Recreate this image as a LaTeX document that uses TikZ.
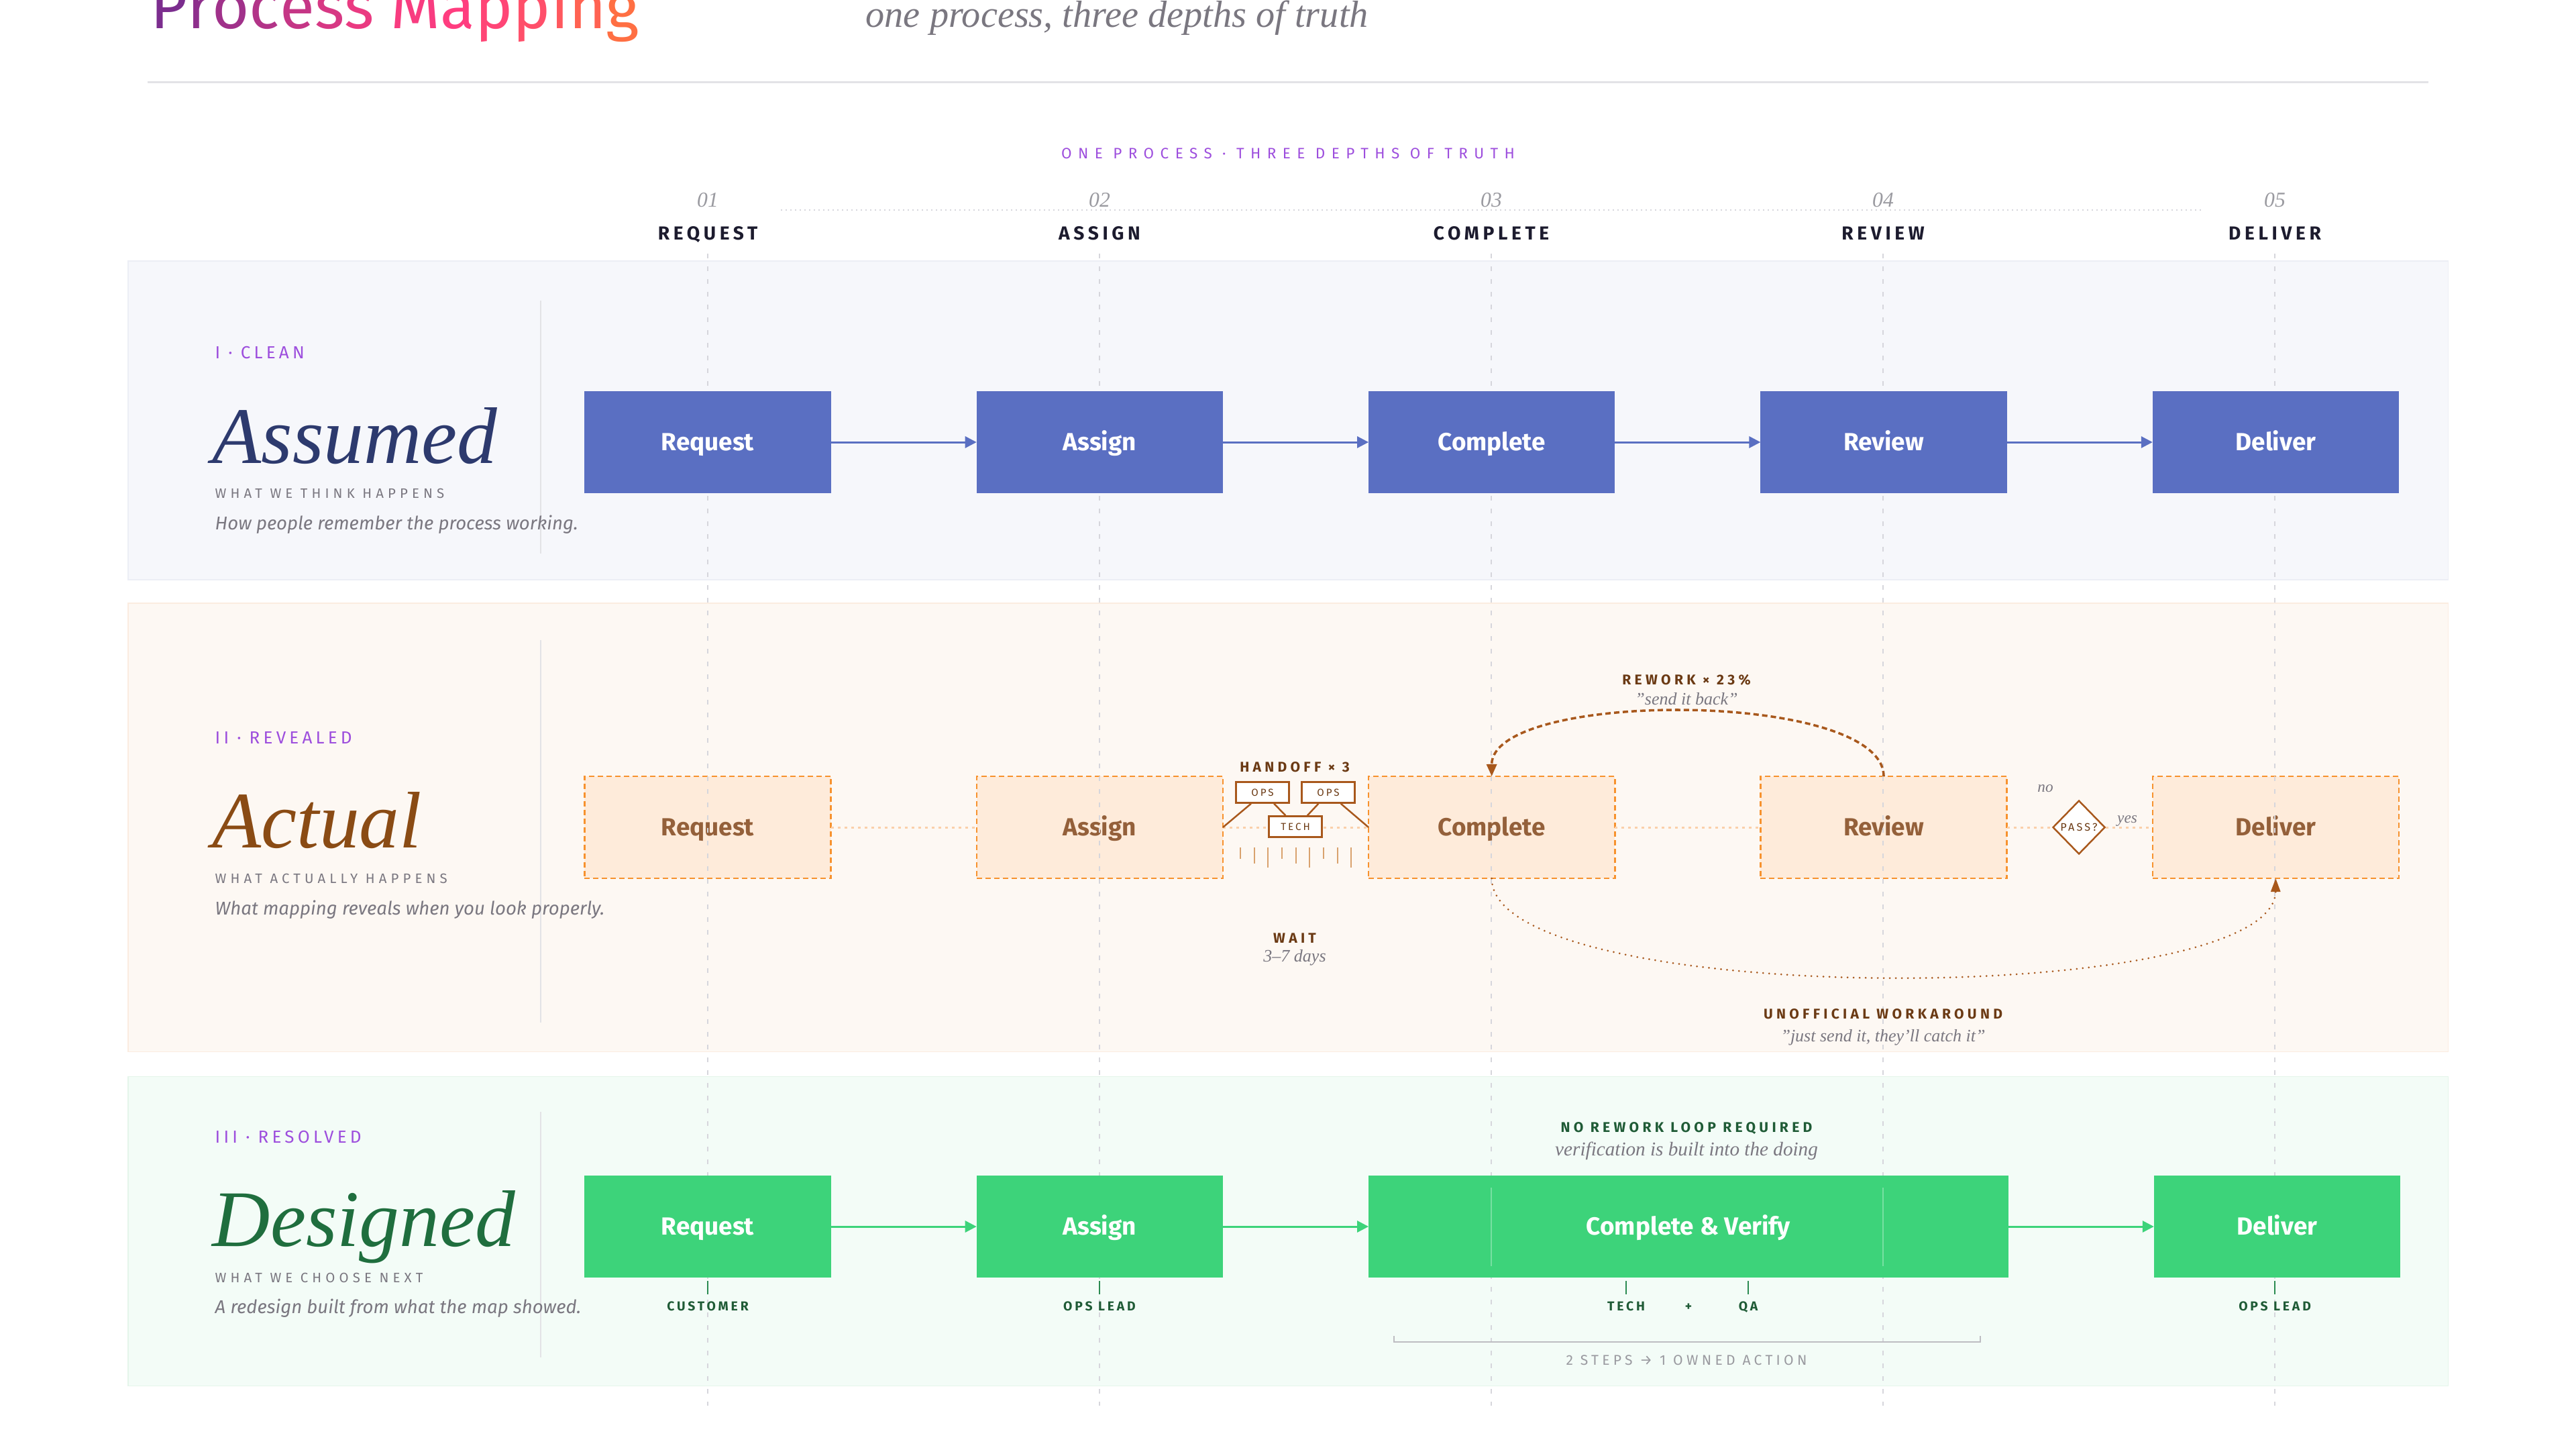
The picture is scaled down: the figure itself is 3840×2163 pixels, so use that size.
\documentclass[tikz,border=0pt]{standalone}
\usepackage{fontspec}
\setmainfont{Liberation Serif}
\setsansfont{Fira Sans}
\newfontfamily\trackA[LetterSpace=20]{Fira Sans}
\newfontfamily\trackB[LetterSpace=30]{Fira Sans}
\newfontfamily\trackC[LetterSpace=42]{Fira Sans}
\newfontfamily\trackD[LetterSpace=25]{Fira Sans}
\usepackage{xcolor}
\usetikzlibrary{arrows.meta,positioning,calc,shapes.geometric}
\definecolor{ink}{HTML}{1C1B2E}
\definecolor{kicker}{HTML}{9D4EDD}
\definecolor{muted}{HTML}{7A7780}
\definecolor{faint}{HTML}{9A9AA0}
\definecolor{rule}{HTML}{E3E3E6}
\definecolor{guideline}{HTML}{D6D6DC}
\definecolor{cleanbg}{HTML}{F6F7FB}
\definecolor{cleanline}{HTML}{ECEEF5}
\definecolor{cleanfill}{HTML}{5A6FC2}
\definecolor{cleanink}{HTML}{2D3A6E}
\definecolor{realbg}{HTML}{FDF8F3}
\definecolor{realline}{HTML}{FBECE0}
\definecolor{realfill}{HTML}{FEEBDA}
\definecolor{realedge}{HTML}{F7922E}
\definecolor{realtext}{HTML}{94603A}
\definecolor{realdot}{HTML}{FAD0AA}
\definecolor{realink}{HTML}{8A4B14}
\definecolor{rust}{HTML}{A8581C}
\definecolor{tan}{HTML}{D9A26E}
\definecolor{bark}{HTML}{6B3A14}
\definecolor{newbg}{HTML}{F3FCF7}
\definecolor{newline}{HTML}{E4F5EA}
\definecolor{newfill}{HTML}{3DD37A}
\definecolor{newink}{HTML}{1F6E3E}
\definecolor{pine}{HTML}{1F5B36}
\definecolor{bracketgray}{HTML}{BDBDC2}
\definecolor{tStart}{HTML}{7B2D8E}
\definecolor{tMid}{HTML}{FF3D7F}
\definecolor{tEnd}{HTML}{FF6F43}

\newcommand{\gradtitle}{%
  \textcolor{tStart}{P}\textcolor{tMid!14!tStart}{r}\textcolor{tMid!28!tStart}{o}%
  \textcolor{tMid!42!tStart}{c}\textcolor{tMid!56!tStart}{e}\textcolor{tMid!70!tStart}{s}%
  \textcolor{tMid!84!tStart}{s} \textcolor{tMid!95!tStart}{M}\textcolor{tMid}{a}%
  \textcolor{tEnd!15!tMid}{p}\textcolor{tEnd!35!tMid}{p}\textcolor{tEnd!55!tMid}{i}%
  \textcolor{tEnd!75!tMid}{n}\textcolor{tEnd}{g}}

\begin{document}
\begin{tikzpicture}[
  x=0.01cm, y=-0.01cm,
  stage/.style={
    rectangle,
    minimum width=3.67cm,
    minimum height=1.52cm,
    inner sep=0pt,
    outer sep=0pt,
    text height=9.2pt,
    text depth=2pt,
    font=\sffamily\bfseries\fontsize{10.5}{12}\selectfont
  },
  clean/.style={stage, fill=cleanfill, text=white},
  real/.style={stage, fill=realfill, draw=realedge, line width=0.7pt,
    dash pattern=on 0.08cm off 0.05cm, text=realtext},
  fixed/.style={stage, fill=newfill, text=white},
  flow/.style={-{Triangle[length=0.17cm,width=0.17cm]}, line width=0.85pt},
  faintlink/.style={draw=realdot, line width=0.85pt, dash pattern=on 0.04cm off 0.06cm},
  handbox/.style={
    rectangle,
    draw=rust,
    fill=white,
    line width=0.7pt,
    minimum width=0.79cm,
    minimum height=0.31cm,
    inner sep=0pt,
    font=\trackA\fontsize{4.3}{5}\selectfont,
    text=bark
  },
  handline/.style={draw=rust, line width=0.7pt},
  tagtext/.style={font=\trackD\bfseries\fontsize{6}{7}\selectfont, inner sep=0pt},
  tag/.style={tagtext, anchor=base},
  owned/.style={font=\trackA\bfseries\fontsize{5.5}{6}\selectfont, inner sep=0pt, anchor=base, text=pine},
  note/.style={font=\itshape\fontsize{7.4}{9}\selectfont, text=muted, anchor=base, inner sep=0pt},
  kick/.style={font=\trackA\fontsize{7.4}{8}\selectfont, text=kicker, anchor=base west, inner sep=0pt},
  word/.style={font=\itshape\fontsize{34}{40}\selectfont, anchor=base west, inner sep=0pt},
  caption/.style={font=\trackB\fontsize{5.8}{7}\selectfont, text=muted, anchor=base west, inner sep=0pt},
  blurb/.style={font=\sffamily\itshape\fontsize{7.85}{9}\selectfont, text=muted, anchor=base west, inner sep=0pt},
  colhead/.style={font=\trackA\bfseries\fontsize{8}{9}\selectfont, text=ink, anchor=base, inner sep=0pt},
  colnum/.style={font=\itshape\fontsize{9}{11}\selectfont, text=faint, anchor=base, inner sep=0pt},
  guide/.style={draw=guideline, line width=0.4pt, dash pattern=on 0.07cm off 0.12cm},
  divider/.style={draw=rule, line width=0.45pt},
  owner/.style={draw=pine!60!newfill, line width=0.4pt},
  loopback/.style={draw=rust, line width=1pt, dash pattern=on 0.08cm off 0.05cm,
    -{Triangle[length=0.18cm,width=0.15cm]}},
  shortcut/.style={draw=rust, line width=0.85pt, line cap=round,
    dash pattern=on 0pt off 0.09cm, -{Triangle[length=0.2cm,width=0.14cm]}}
]
\useasboundingbox (0,0) rectangle (3840,2163);
\clip (0,0) rectangle (3840,2163);

% header
\node[anchor=base west, font=\sffamily\fontsize{27}{30}\selectfont, inner sep=0pt] (title) at (224,42) {\gradtitle};
\node[anchor=base west, font=\itshape\fontsize{16}{18}\selectfont, text=muted, inner sep=0pt] (subtitle) at (1290,40) {one process, three depths of truth};
\coordinate (ruleL) at (220,122);
\coordinate (ruleR) at (3620,122);
\draw[draw=rule, line width=0.85pt] (ruleL) -- (ruleR);
\node[font=\trackC\fontsize{6.4}{7}\selectfont, text=kicker, anchor=base, inner sep=0pt] (kicker) at (1920,236) {ONE PROCESS · THREE DEPTHS OF TRUTH};

\node[colnum] (n1) at (1055,308) {01};
\node[colnum] (n2) at (1639,308) {02};
\node[colnum] (n3) at (2223,308) {03};
\node[colnum] (n4) at (2807,308) {04};
\node[colnum] (n5) at (3391,308) {05};
\coordinate (dotL) at (1164,313);
\coordinate (dotR) at (3285,313);
\draw[draw=guideline, line width=0.45pt, dash pattern=on 0.02cm off 0.05cm] (dotL) -- (dotR);
\node[colhead] (h1) at (1055,357) {REQUEST};
\node[colhead] (h2) at (1639,357) {ASSIGN};
\node[colhead] (h3) at (2223,357) {COMPLETE};
\node[colhead] (h4) at (2807,357) {REVIEW};
\node[colhead] (h5) at (3391,357) {DELIVER};

% bands
\draw[draw=cleanline, fill=cleanbg, line width=0.3pt] (191,389) rectangle (3649,864);
\draw[draw=realline, fill=realbg, line width=0.3pt] (191,899) rectangle (3649,1567);
\draw[draw=newline, fill=newbg, line width=0.3pt] (191,1604) rectangle (3649,2065);
\draw[divider] (806,448) -- (806,825);
\draw[divider] (806,954) -- (806,1524);
\draw[divider] (806,1657) -- (806,2023);

% row II boxes sit under the guides
\node[real] (b1) at (1055,1233) {Request};
\node[real, right=2.17cm of b1] (b2) {Assign};
\node[real, right=2.17cm of b2] (b3) {Complete};
\node[real, right=2.17cm of b3] (b4) {Review};
\node[real, right=2.17cm of b4] (b5) {Deliver};

\draw[guide] (1055,378) -- (1055,2095) (1639,378) -- (1639,2095) (2223,378) -- (2223,2095)
  (2807,378) -- (2807,2095) (3391,378) -- (3391,2095);

% I - clean
\node[kick] (tag1) at (320,534) {I · CLEAN};
\node[word, text=cleanink] (word1) at (316,690) {Assumed};
\node[caption] (cap1) at (320,742) {WHAT WE THINK HAPPENS};
\node[blurb] (blurb1) at (320,789) {How people remember the process working.};

\node[clean] (a1) at (1055,659) {Request};
\node[clean, right=2.17cm of a1] (a2) {Assign};
\node[clean, right=2.17cm of a2] (a3) {Complete};
\node[clean, right=2.17cm of a3] (a4) {Review};
\node[clean, right=2.17cm of a4] (a5) {Deliver};
\draw[flow, draw=cleanfill, fill=cleanfill] (a1) -- (a2);
\draw[flow, draw=cleanfill, fill=cleanfill] (a2) -- (a3);
\draw[flow, draw=cleanfill, fill=cleanfill] (a3) -- (a4);
\draw[flow, draw=cleanfill, fill=cleanfill] (a4) -- (a5);

% II - revealed
\node[kick] (tag2) at (320,1108) {II · REVEALED};
\node[word, text=realink] (word2) at (316,1263) {Actual};
\node[caption] (cap2) at (320,1316) {WHAT ACTUALLY HAPPENS};
\node[blurb] (blurb2) at (320,1363) {What mapping reveals when you look properly.};

\node[diamond, draw=rust, fill=white, line width=0.7pt, minimum width=0.78cm, minimum height=0.8cm,
  inner sep=0pt, label={[tagtext, text=bark, font=\trackA\fontsize{4.6}{5}\selectfont]center:PASS?}] (pass) at (3099,1233) {};

\draw[faintlink] (b1) -- (b2);
\draw[faintlink] (b2) -- (b3);
\draw[faintlink] (b3) -- (b4);
\draw[faintlink] (b4) -- (pass);
\draw[faintlink] (pass) -- (b5);
\node[note, font=\itshape\fontsize{6.6}{8}\selectfont] (no) at (3049,1180) {no};
\node[note, font=\itshape\fontsize{6.6}{8}\selectfont] (yes) at (3171,1226) {yes};

\node[tag, text=bark] (handoff) at (1930,1150) {HANDOFF × 3};
\node[handbox] (ops1) at (1882,1181) {OPS};
\node[handbox] (ops2) at (1980,1181) {OPS};
\node[handbox] (tech) at (1931,1232) {TECH};
\draw[handline] (b2.east) -- ($(ops1.south west)!.29!(ops1.south east)$);
\draw[handline] ($(ops1.south west)!.71!(ops1.south east)$) -- ($(tech.north west)!.32!(tech.north east)$);
\draw[handline] ($(tech.north west)!.72!(tech.north east)$) -- ($(ops2.south west)!.32!(ops2.south east)$);
\draw[handline] ($(ops2.south west)!.73!(ops2.south east)$) -- (b3.west);
\draw[draw=tan, line width=0.6pt] (1849,1263) -- (1849,1280) (1870,1263) -- (1870,1287)
  (1890,1263) -- (1890,1293) (1911,1263) -- (1911,1280) (1932,1263) -- (1932,1287)
  (1952,1263) -- (1952,1293) (1973,1263) -- (1973,1280) (1994,1263) -- (1994,1287)
  (2014,1263) -- (2014,1293);
\node[tag, text=bark] (wait) at (1930,1405) {WAIT};
\node[note] (days) at (1930,1433) {3–7 days};

\draw[loopback] (b4.north) .. controls (2807,1028) and (2223,1028) .. (b3.north);
\node[tag, text=bark] (rework) at (2514,1020) {REWORK × 23\%};
\node[note] (sendback) at (2514,1050) {"send it back"};

\draw[shortcut] (b3.south) .. controls (2223,1504) and (3391,1504) .. (b5.south);
\node[tag, text=bark] (workaround) at (2807,1518) {UNOFFICIAL WORKAROUND};
\node[note] (catchit) at (2807,1552) {"just send it, they'll catch it"};

% III - resolved
\node[kick] (tag3) at (320,1703) {III · RESOLVED};
\node[word, text=newink] (word3) at (316,1857) {Designed};
\node[caption] (cap3) at (320,1911) {WHAT WE CHOOSE NEXT};
\node[blurb] (blurb3) at (320,1957) {A redesign built from what the map showed.};

\node[fixed] (c1) at (1055,1828) {Request};
\node[fixed, right=2.17cm of c1] (c2) {Assign};
\node[fixed, right=2.17cm of c2, minimum width=9.53cm] (c3) {Complete \& Verify};
\node[fixed, right=2.17cm of c3] (c5) {Deliver};
\draw[white, opacity=0.3, line width=0.4pt] (2223,1770) -- (2223,1887) (2807,1770) -- (2807,1887);
\draw[flow, draw=newfill, fill=newfill] (c1) -- (c2);
\draw[flow, draw=newfill, fill=newfill] (c2) -- (c3);
\draw[flow, draw=newfill, fill=newfill] (c3) -- (c5);

\node[tag, text=pine] (norework) at (2514,1687) {NO REWORK LOOP REQUIRED};
\node[note, font=\itshape\fontsize{8.3}{10}\selectfont] (builtin) at (2514,1722) {verification is built into the doing};

\node[owned] (o1) at (1055,1953) {CUSTOMER};
\node[owned] (o2) at (1639,1953) {OPS LEAD};
\node[owned] (o3) at (2424,1953) {TECH};
\node[owned] (plus) at (2517,1953) {+};
\node[owned] (o4) at (2606,1953) {QA};
\node[owned] (o5) at (3391,1953) {OPS LEAD};
\draw[owner] (1055,1909) -- (1055,1929);
\draw[owner] (1639,1909) -- (1639,1929);
\draw[owner] (2424,1909) -- (2424,1929);
\draw[owner] (2606,1909) -- (2606,1929);
\draw[owner] (3391,1909) -- (3391,1929);

\coordinate (braceL) at (2078,2000);
\coordinate (braceR) at (2952,2000);
\draw[draw=bracketgray, line width=0.6pt] ($(braceL)+(0,-9)$) -- (braceL) -- (braceR) -- ($(braceR)+(0,-9)$);
\node[tag, font=\trackD\fontsize{6}{7}\selectfont, text=faint] (merge) at (2514,2034) {2 STEPS → 1 OWNED ACTION};
\end{tikzpicture}
\end{document}
